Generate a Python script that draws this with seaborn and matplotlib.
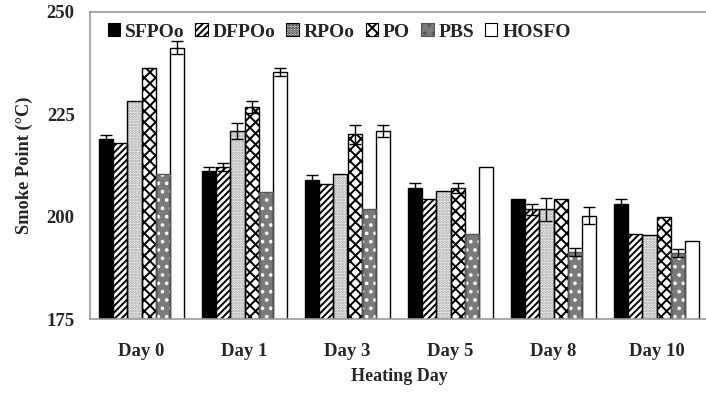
import numpy as np
import pandas as pd
import matplotlib
matplotlib.use("Agg")
import matplotlib.pyplot as plt
from matplotlib.patches import Rectangle
import seaborn as sns

# Smoke point (°C) of each oil over the heating period
days = ["Day 0", "Day 1", "Day 3", "Day 5", "Day 8", "Day 10"]
oils = ["SFPOo", "DFPOo", "RPOo", "PO", "PBS", "HOSFO"]

sfpoo = [219.0, 211.2, 208.9, 207.1, 204.3, 203.1]
dfpoo = [218.0, 212.2, 208.0, 204.2, 201.8, 195.8]
rpoo = [228.2, 220.9, 210.4, 206.2, 201.8, 195.6]
po = [236.2, 226.8, 220.1, 207.1, 204.3, 200.0]
pbs = [210.4, 206.1, 201.9, 195.8, 191.4, 191.2]
hosfo = [241.3, 235.4, 221.0, 212.2, 200.2, 194.0]

# Standard deviations (0 = no error bar shown)
sfpoo_err = [1.0, 1.0, 1.4, 1.2, 0.0, 1.2]
dfpoo_err = [0.0, 1.0, 0.0, 0.0, 1.3, 0.0]
rpoo_err = [0.0, 2.0, 0.0, 0.0, 2.8, 0.0]
po_err = [0.0, 1.5, 2.3, 1.2, 0.0, 0.0]
pbs_err = [0.0, 0.0, 0.0, 0.0, 1.0, 1.0]
hosfo_err = [1.5, 1.0, 1.5, 0.0, 2.1, 0.0]

values = [sfpoo, dfpoo, rpoo, po, pbs, hosfo]
errors = [sfpoo_err, dfpoo_err, rpoo_err, po_err, pbs_err, hosfo_err]

df = pd.DataFrame({
    "day": np.repeat([days], len(oils), axis=0).ravel(),
    "oil": np.repeat(oils, len(days)),
    "smoke": np.concatenate(values),
})

# face colour, hatch, hatch colour for each oil
styles = {
    "SFPOo": ("black", "", "black"),
    "DFPOo": ("white", "/////", "black"),
    "RPOo": ("white", "......", "#9a9a9a"),
    "PO": ("white", "xxx", "black"),
    "PBS": ("#7a7a7a", "..", "white"),
    "HOSFO": ("white", "", "black"),
}

sns.set_theme(style="white")
plt.rcParams["font.family"] = ["Liberation Serif", "DejaVu Serif"]
plt.rcParams["hatch.linewidth"] = 1.4

fig = plt.figure(figsize=(7.06, 3.94), dpi=100)
ax = fig.add_axes([90 / 706, 1 - 319 / 394, 618 / 706, 307 / 394])

sns.barplot(data=df, x="day", y="smoke", hue="oil", order=days, hue_order=oils,
            palette=[styles[o][0] for o in oils], width=0.82, errorbar=None,
            edgecolor="black", linewidth=1.0, legend=False, ax=ax)

for oil, cont, errs in zip(oils, ax.containers, errors):
    face, hatch, hcol = styles[oil]
    for bar, e in zip(cont.patches, errs):
        if hatch:
            bar.set_hatch(hatch)
            bar.set_edgecolor(hcol)
            bar.set_linewidth(0)
            ax.add_patch(Rectangle(bar.get_xy(), bar.get_width(), bar.get_height(),
                                   fill=False, edgecolor="black" if oil != "PBS" else "#555555",
                                   linewidth=1.0, zorder=bar.get_zorder() + 0.1))
        if e > 0:
            ax.errorbar(bar.get_x() + bar.get_width() / 2, bar.get_height(), yerr=e,
                        fmt="none", ecolor="black", elinewidth=1.0, capsize=4,
                        capthick=1.0, zorder=5)

ax.set_ylim(175, 250)
ax.set_yticks([175, 200, 225, 250])
ax.set_xlim(-0.5, 5.5)
ax.set_xticks(range(len(days)))
ax.set_xticks(np.arange(-0.5, 5.6, 1.0), minor=True)
ax.tick_params(axis="x", which="major", length=0, pad=17, labelsize=13.5)
ax.tick_params(axis="x", which="minor", length=5, width=1, color="#888888", direction="out")
ax.tick_params(axis="y", length=6, width=1, color="#888888", direction="out", labelsize=13.5, pad=5)
for lab in ax.get_xticklabels() + ax.get_yticklabels():
    lab.set_fontweight("bold")

for side in ["left", "bottom", "top"]:
    ax.spines[side].set_visible(True)
    ax.spines[side].set_color("#999999")
    ax.spines[side].set_linewidth(1.2)
ax.spines["right"].set_visible(False)

ax.set_xlabel("Heating Day", fontsize=13, fontweight="bold", labelpad=6)
ax.set_ylabel("Smoke Point (°C)", fontsize=13.2, fontweight="bold", labelpad=10)

handles = []
for oil in oils:
    face, hatch, hcol = styles[oil]
    handles.append(Rectangle((0, 0), 1, 1, facecolor=face, hatch=hatch,
                             edgecolor="black" if oil != "PBS" else "#555555", linewidth=0.8))
ax.legend(handles, oils, loc="center left", bbox_to_anchor=(0.0, 0.935), ncol=6,
          frameon=False, handlelength=0.65, handleheight=0.65, handletextpad=0.25,
          columnspacing=0.55, prop={"family": "Liberation Serif", "weight": "bold", "size": 14})

fig.savefig("out.png", dpi=100)
